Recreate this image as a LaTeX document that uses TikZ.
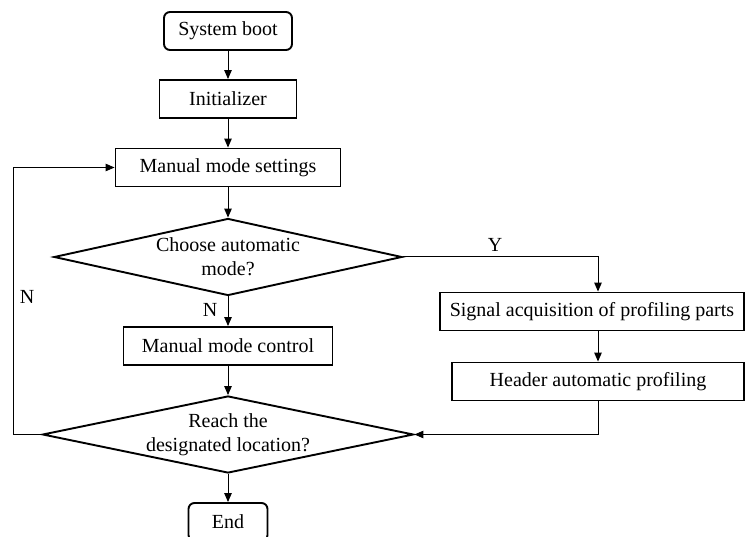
\documentclass[tikz,border=0pt]{standalone}
\usepackage{fontspec}
\setmainfont{Liberation Serif}
\usetikzlibrary{shapes.geometric,arrows.meta}

\begin{document}
\begin{tikzpicture}[x=1pt, y=-1pt,
  font=\fontsize{20}{24}\selectfont,
  box/.style={draw, line width=1.9pt, inner sep=0pt, minimum height=38pt},
  term/.style={box, rounded corners=6pt},
  decision/.style={draw, diamond, line width=1.9pt, inner sep=0pt, align=center, minimum height=77pt},
  flow/.style={-{Triangle[length=9pt,width=7.5pt]}, line width=1pt}]
  \useasboundingbox (0,0) rectangle (745,537);

  % Main column
  \node[term, minimum width=128pt] (boot) at (228,31) {System boot};
  \node[box, minimum width=137pt] (init) at (228,99) {Initializer};
  \node[box, minimum width=225pt] (manset) at (228,167.5) {Manual mode settings};
  \node[decision, minimum width=348pt, aspect=4.52] (chooseauto) at (228,257) {Choose automatic\\mode?};
  \node[box, minimum width=209pt] (manctrl) at (228,346) {Manual mode control};
  \node[decision, minimum width=371pt, aspect=4.82] (reach) at (228,434.5) {Reach the\\designated location?};
  \node[term, minimum width=79pt] (finish) at (228,522) {End};

  % Automatic branch
  \node[box, minimum width=304pt] (sigacq) at (592,311.5) {Signal acquisition of profiling parts};
  \node[box, minimum width=292pt] (autoprof) at (598,381.5) {Header automatic profiling};

  % Labels
  \node (ylab) at (495,245) {Y};
  \node (nlab) at (210,310) {N};
  \node (nloop) at (27,297) {N};
  \coordinate (loopx) at (13,0);

  % Connectors
  \draw[flow] (boot) -- (init);
  \draw[flow] (init) -- (manset);
  \draw[flow] (manset) -- (chooseauto);
  \draw[flow] (chooseauto) -- (manctrl);
  \draw[flow] (manctrl) -- (reach);
  \draw[flow] (reach) -- (finish);
  \draw[flow] (chooseauto.east) -| (autoprof.north |- sigacq.north);
  \draw[flow] (autoprof.north |- sigacq.south) -- (autoprof.north);
  \draw[flow] (autoprof.south) |- (reach.east);
  \draw[flow] (reach.west) -- (reach.west -| loopx) |- (manset.west);

\end{tikzpicture}
\end{document}
